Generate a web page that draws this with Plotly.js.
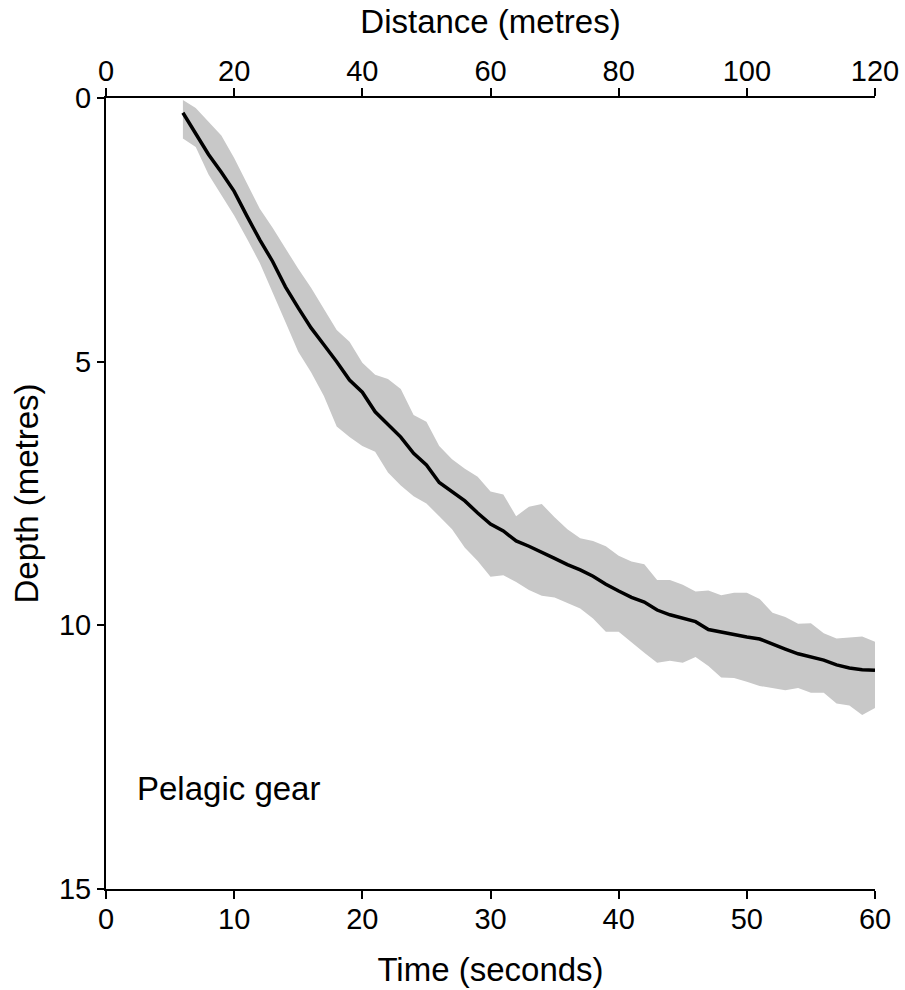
<!DOCTYPE html>
<html>
<head>
<meta charset="utf-8">
<script src="https://cdn.plot.ly/plotly-3.0.1.min.js"></script>
<style>html,body{margin:0;padding:0;background:#fff;}#chart{width:905px;height:990px;}</style>
</head>
<body>
<div id="chart"></div>
<script>
const timeSec = [6,7,8,9,10,11,12,13,14,15,16,17,18,19,20,21,22,23,24,25,26,27,28,29,30,31,32,33,34,35,36,37,38,39,40,41,42,43,44,45,46,47,48,49,50,51,52,53,54,55,56,57,58,59,60];
const meanDepth = [0.28,0.68,1.07,1.41,1.77,2.24,2.69,3.10,3.58,3.98,4.36,4.68,5.00,5.35,5.58,5.95,6.19,6.43,6.74,6.96,7.29,7.47,7.64,7.87,8.08,8.21,8.40,8.50,8.61,8.73,8.85,8.95,9.07,9.22,9.35,9.47,9.56,9.71,9.80,9.86,9.93,10.08,10.13,10.18,10.22,10.26,10.36,10.45,10.54,10.60,10.66,10.75,10.81,10.84,10.85];
const upperDepth = [0.04,0.19,0.45,0.71,1.14,1.62,2.10,2.46,2.85,3.24,3.60,4.00,4.40,4.62,5.02,5.25,5.33,5.52,6.01,6.14,6.60,6.85,7.03,7.18,7.46,7.52,7.93,7.75,7.70,7.95,8.18,8.35,8.40,8.50,8.68,8.79,8.84,9.14,9.14,9.23,9.36,9.34,9.43,9.38,9.38,9.50,9.76,9.84,9.97,9.96,10.15,10.25,10.23,10.21,10.31];
const lowerDepth = [0.77,0.93,1.45,1.84,2.23,2.67,3.13,3.68,4.25,4.81,5.20,5.65,6.23,6.43,6.60,6.71,7.10,7.35,7.55,7.69,7.93,8.18,8.53,8.78,9.08,9.05,9.18,9.33,9.44,9.47,9.58,9.68,9.87,10.12,10.12,10.32,10.52,10.71,10.67,10.71,10.60,10.77,10.99,11.00,11.07,11.15,11.19,11.23,11.19,11.28,11.28,11.48,11.52,11.70,11.57];
const timeTicks = [0,10,20,30,40,50,60];
const distanceTicks = [0,20,40,60,80,100,120];
const depthTicks = [0,5,10,15];
const metresPerSecond = 2;
const label = "Pelagic gear";

const bandX = timeSec.concat(timeSec.slice().reverse());
const bandY = upperDepth.concat(lowerDepth.slice().reverse());
const distance = timeSec.map(t => t * metresPerSecond);

const FONT = "Liberation Sans, Arial, sans-serif";
const TICK = 29, TITLE = 33;

const data = [
  {x: bandX, y: bandY, type: 'scatter', mode: 'lines', fill: 'toself',
   fillcolor: '#c8c8c8', line: {width: 0, color: '#c8c8c8'}, hoverinfo: 'skip', showlegend: false},
  {x: timeSec, y: meanDepth, type: 'scatter', mode: 'lines',
   line: {color: '#000', width: 3.5}, showlegend: false},
  {x: distance, y: meanDepth, xaxis: 'x2', yaxis: 'y', type: 'scatter', mode: 'lines',
   line: {color: 'rgba(0,0,0,0)', width: 0}, hoverinfo: 'skip', showlegend: false}
];

const axisCommon = {
  showgrid: false, zeroline: false, showline: true, linecolor: '#000', linewidth: 2,
  ticks: 'outside', ticklen: 8, tickwidth: 2, tickcolor: '#000',
  tickfont: {family: FONT, size: TICK, color: '#000'}
};

const layout = {
  width: 905, height: 990,
  margin: {l: 106, r: 30, t: 98, b: 101, pad: 0},
  paper_bgcolor: '#fff', plot_bgcolor: '#fff',
  showlegend: false,
  font: {family: FONT, color: '#000'},
  xaxis: Object.assign({}, axisCommon, {
    range: [0, 60], tickmode: 'array', tickvals: timeTicks, ticktext: timeTicks.map(String),
    side: 'bottom', anchor: 'y', ticklabelstandoff: -5,
    title: {text: 'Time (seconds)', font: {family: FONT, size: TITLE, color: '#000'}, standoff: 24}
  }),
  xaxis2: Object.assign({}, axisCommon, {
    range: [0, 120], tickmode: 'array', tickvals: distanceTicks, ticktext: distanceTicks.map(String),
    side: 'top', overlaying: 'x', anchor: 'y', ticklabelstandoff: -5,
    title: {text: 'Distance (metres)', font: {family: FONT, size: TITLE, color: '#000'}, standoff: 12}
  }),
  yaxis: Object.assign({}, axisCommon, {
    range: [15, 0], tickmode: 'array', tickvals: depthTicks, ticktext: depthTicks.map(String),
    ticklen: 7,
    title: {text: 'Depth (metres)', font: {family: FONT, size: TITLE, color: '#000'}, standoff: 10}
  }),
  annotations: [{
    x: 2.25, y: 13.1, xref: 'x', yref: 'y', text: label, showarrow: false,
    xanchor: 'left', yanchor: 'middle', font: {family: FONT, size: TITLE, color: '#000'}
  }]
};

Plotly.newPlot('chart', data, layout, {displayModeBar: false, staticPlot: true});
</script>
</body>
</html>
